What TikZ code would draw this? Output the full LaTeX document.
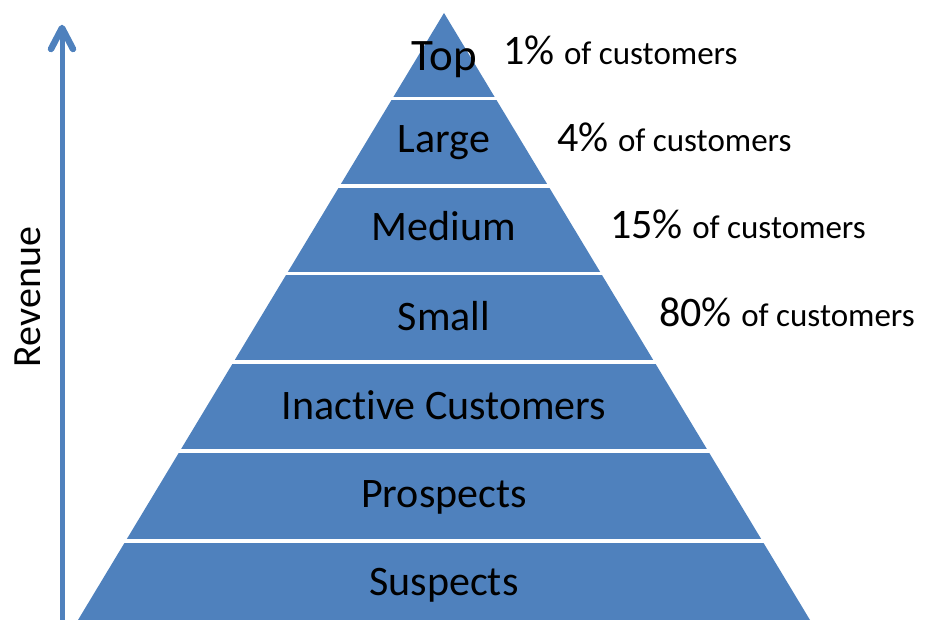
\documentclass[tikz,border=0pt]{standalone}
\usepackage{fontspec}
\setmainfont{Carlito}[Ligatures=NoCommon]
\definecolor{pyrblue}{HTML}{4F81BD}
\begin{document}
\begin{tikzpicture}[x=1pt,y=-1pt,
  band/.style={fill=pyrblue},
  sepline/.style={draw=white,line width=3.5pt},
  lbl/.style={font=\fontsize{42}{48}\selectfont,text=black,anchor=base,inner sep=0pt},
  pct/.style={font=\fontsize{42}{48}\selectfont,text=black,anchor=base west,inner sep=0pt},
  axisline/.style={draw=pyrblue,line width=5pt},
  axishead/.style={draw=pyrblue,line width=6.5pt,line cap=round,line join=round},
  axislbl/.style={font=\fontsize{40}{46}\selectfont,text=black,rotate=90,anchor=base,inner sep=0pt}]
\useasboundingbox (0,0) rectangle (927,620);
% pyramid
\begin{scope}
\clip (0,0) rectangle (927,620);
\fill[band] (444,13) -- (78,620) -- (810,620) -- cycle;
\end{scope}
\foreach \yy in {98.5,186,273.5,362,451,541}{
  \draw[sepline] (70,\yy) -- (830,\yy);
}
% band labels
\node[lbl,font=\fontsize{45}{52}\selectfont] (top) at (444,71) {Top};
\node[lbl] (large) at (444,153) {Large};
\node[lbl] (medium) at (444,241) {Medium};
\node[lbl] (small) at (444,331) {Small};
\node[lbl] (inactive) at (444,420) {Inactive Customers};
\node[lbl] (prospects) at (444,507) {Prospects};
\node[lbl] (suspects) at (444,595) {Suspects};
% percentages
\node[pct] (p1) at (503,65) {1\% {\fontsize{33}{38}\selectfont of customers}};
\node[pct] (p4) at (557,152) {4\% {\fontsize{33}{38}\selectfont of customers}};
\node[pct] (p15) at (610,239) {15\% {\fontsize{33}{38}\selectfont of customers}};
\node[pct] (p80) at (659,327) {80\% {\fontsize{33}{38}\selectfont of customers}};
% revenue axis
\coordinate (axbot) at (62,622);
\coordinate (axtop) at (62,28);
\draw[axisline] (axbot) -- (axtop);
\draw[axishead] (axtop) ++(-11,21) -- (axtop) -- ++(11,21);
\node[axislbl] (rev) at (40,297) {Revenue};
\end{tikzpicture}
\end{document}
